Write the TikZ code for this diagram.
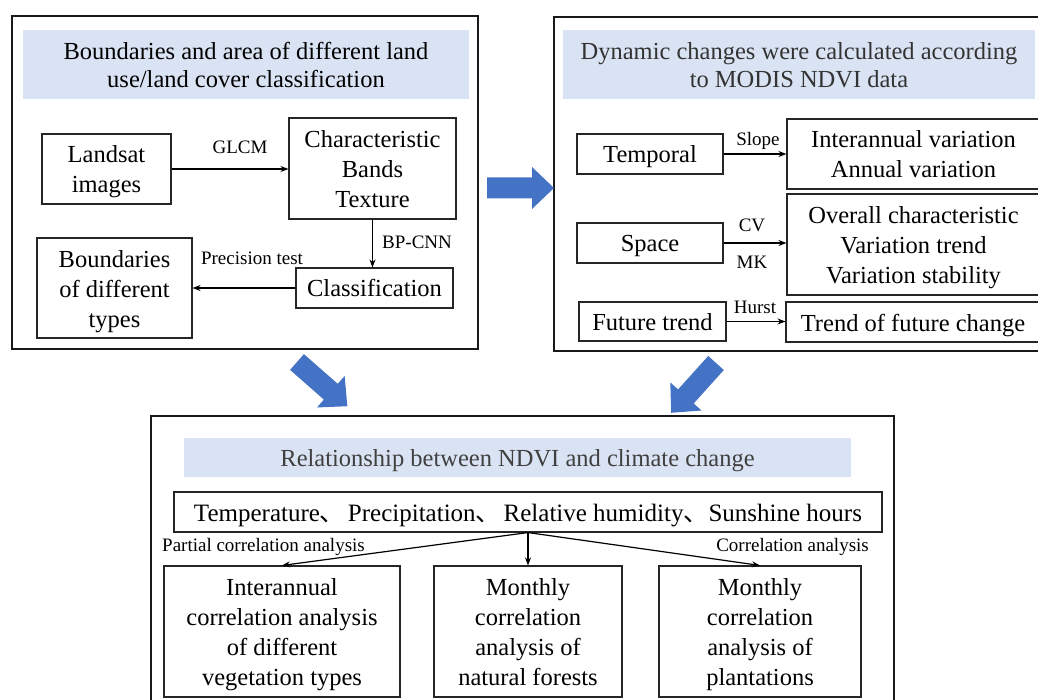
\documentclass[tikz,border=0pt]{standalone}
\usepackage{fontspec}
\setmainfont{Liberation Serif}
\newfontfamily\cjk{Noto Sans CJK SC}
\usetikzlibrary{arrows.meta}
\definecolor{bandblue}{HTML}{DAE3F3}
\definecolor{arrowblue}{HTML}{4472C4}
\definecolor{titlegray}{HTML}{404040}
\newcommand{\tstr}{\rule{0pt}{24pt}}
\newcommand{\bstr}{\rule[-6pt]{0pt}{6pt}}
\begin{document}
\begin{tikzpicture}[x=1pt,y=-1pt,
 outer/.style={draw=black!90, line width=1.5pt},
 band/.style={fill=bandblue, draw=none, inner sep=0pt, align=center, font=\fontsize{24.5}{28}\selectfont},
 box/.style={draw=black!85, line width=1.1pt, inner sep=0pt, align=center, font=\fontsize{24.5}{30}\selectfont},
 lbl/.style={font=\fontsize{19}{22}\selectfont, inner sep=0pt},
 conn/.style={line width=1.2pt, -{Stealth[length=8pt,width=6pt]}},
 blockarrow/.pic={\fill[arrowblue] (0,-10.5) -- (45,-10.5) -- (45,-21) -- (67,0) -- (45,21) -- (45,10.5) -- (0,10.5) -- cycle;}
]
\useasboundingbox (0,0) rectangle (1038,700);
\clip (0,0) rectangle (1038,700);

% ---------- left panel ----------
\draw[outer] (12,16) rectangle (478,349);
\node[band, minimum width=446, minimum height=69] (titleL) at (246,64.5)
  {\tstr Boundaries and area of different land\\use/land cover classification\bstr};
\node[box, minimum width=129, minimum height=70] (landsat) at (106.5,169) {\tstr Landsat\\images\bstr};
\node[box, minimum width=167, minimum height=101] (charac) at (372.5,168.5) {\tstr Characteristic\\Bands\\Texture\bstr};
\node[box, minimum width=157, minimum height=40] (classif) at (374.5,288) {\tstr Classification\bstr};
\node[box, minimum width=155, minimum height=100] (bound) at (114.5,288) {\tstr Boundaries\\of different\\types\bstr};
\draw[conn] (landsat.east) -- (landsat.east -| charac.west);
\draw[conn] (charac.south) -- (charac.south |- classif.north);
\draw[conn] (classif.west) -- (bound.east);
\node[lbl] (glcm) at (240,147) {GLCM};
\node[lbl, anchor=west] (bpcnn) at (382,242) {BP-CNN};
\node[lbl] (prec) at (252,258) {Precision test};

% ---------- right panel ----------
\draw[outer] (554,17) rectangle (1044,351);
\node[band, minimum width=472, minimum height=69, text=black!80] (titleR) at (799,64.5)
  {\tstr Dynamic changes were calculated according\\to MODIS NDVI data\bstr};
\node[box, minimum width=146, minimum height=40] (temporal) at (650,154) {\tstr Temporal\bstr};
\node[box, minimum width=253, minimum height=70] (interann) at (913.5,154) {\tstr Interannual variation\\Annual variation\bstr};
\node[box, minimum width=146, minimum height=40] (space) at (650,243) {\tstr Space\bstr};
\node[box, minimum width=253, minimum height=101] (overall) at (913.5,244.5) {\tstr Overall characteristic\\Variation trend\\Variation stability\bstr};
\node[box, minimum width=147, minimum height=39] (future) at (652.5,321.5) {\tstr Future trend\bstr};
\node[box, minimum width=254, minimum height=40] (trendf) at (913,322) {\tstr Trend of future change\bstr};
\draw[conn] (temporal.east) -- (temporal.east -| interann.west);
\draw[conn] (space.east) -- (space.east -| overall.west);
\draw[conn] (future.east) -- (future.east -| trendf.west);
\node[lbl] (slope) at (758,141) {Slope};
\node[lbl] (cv) at (752,225) {CV};
\node[lbl] (mk) at (752,262) {MK};
\node[lbl] (hurst) at (755,307) {Hurst};

% ---------- bottom panel ----------
\draw[outer] (151,416) rectangle (894,712);
\node[band, minimum width=667, minimum height=39, text=titlegray] (titleB) at (517.5,457.5)
  {\tstr Relationship between NDVI and climate change\bstr};
\node[box, minimum width=708, minimum height=40, font=\fontsize{25}{30}\selectfont] (climate) at (528,512)
  {\tstr Temperature{\cjk 、}\hspace{3pt}Precipitation{\cjk 、}\hspace{3pt}Relative humidity{\cjk 、}Sunshine hours\bstr};
\node[box, minimum width=236, minimum height=131] (interc) at (282,631.5)
  {\tstr Interannual\\correlation analysis\\of different\\vegetation types\bstr};
\node[box, minimum width=188, minimum height=131] (natural) at (528,631.5)
  {\tstr Monthly\\correlation\\analysis of\\natural forests\bstr};
\node[box, minimum width=202, minimum height=131] (plant) at (760,631.5)
  {\tstr Monthly\\correlation\\analysis of\\plantations\bstr};
\draw[conn] (climate.south) -- (interc.north);
\draw[conn] (climate.south) -- (natural.north);
\draw[conn] (climate.south) -- (plant.north);
\node[lbl, anchor=west] (partial) at (162,547) {Partial correlation analysis};
\node[lbl, anchor=east] (corr) at (869,547) {Correlation analysis};

% ---------- block arrows ----------
\pic at (487,188) {blockarrow};
\pic[rotate=-41.3] at (297,362) {blockarrow};
\pic[rotate=-132] at (716,363) {blockarrow};
\end{tikzpicture}
\end{document}
